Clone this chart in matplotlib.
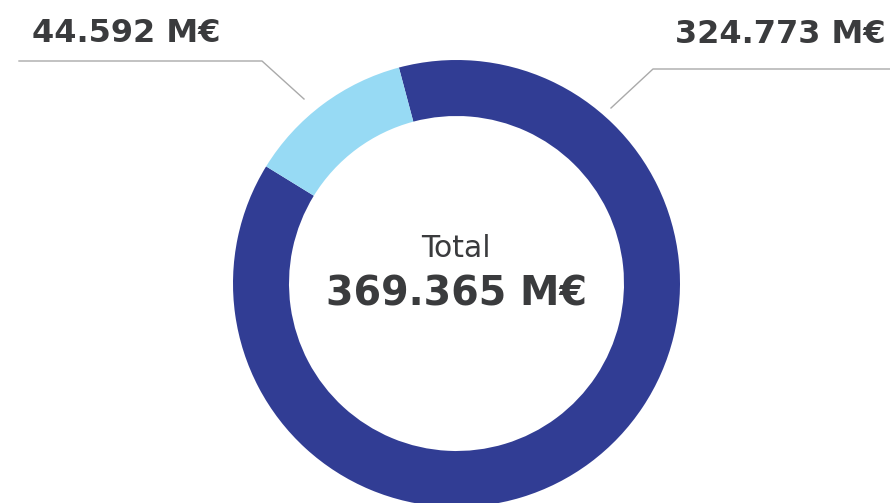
import matplotlib.pyplot as plt

# datos
labels = ["324.773 M€", "44.592 M€"]
values = [324.773, 44.592]
colors = ["#313d94", "#97daf4"]
total_label = "369.365 M€"

TEXT = "#3a3b3d"
LINE = "#aaaaaa"

fig = plt.figure(figsize=(8.9, 5.03), dpi=100)
ax = fig.add_axes([0, 0, 1, 1])

# donut, coordenadas en pixeles (y hacia arriba)
ax.pie(values, colors=colors, startangle=148.4, counterclock=True,
       center=(456.5, 219.5), radius=223.5,
       wedgeprops=dict(width=56, linewidth=0))
ax.set_xlim(0, 890)
ax.set_ylim(0, 503)
ax.set_aspect("auto")
ax.axis("off")

# texto central
ax.text(456, 246, "Total", ha="center", va="baseline",
        fontsize=21.5, color=TEXT, family="DejaVu Sans")
ax.text(456, 198, total_label, ha="center", va="baseline",
        fontsize=28.5, fontweight="bold", color=TEXT, family="DejaVu Sans")

# etiquetas con lineas guia
ax.plot([19, 262, 304], [442, 442, 404], color=LINE, lw=1.0)
ax.text(32, 461, labels[1], ha="left", va="baseline",
        fontsize=23, fontweight="bold", color=TEXT, family="DejaVu Sans")

ax.plot([611, 653, 890], [395, 434, 434], color=LINE, lw=1.0)
ax.text(886, 460, labels[0], ha="right", va="baseline",
        fontsize=23, fontweight="bold", color=TEXT, family="DejaVu Sans")

fig.savefig("out.png", dpi=100)
